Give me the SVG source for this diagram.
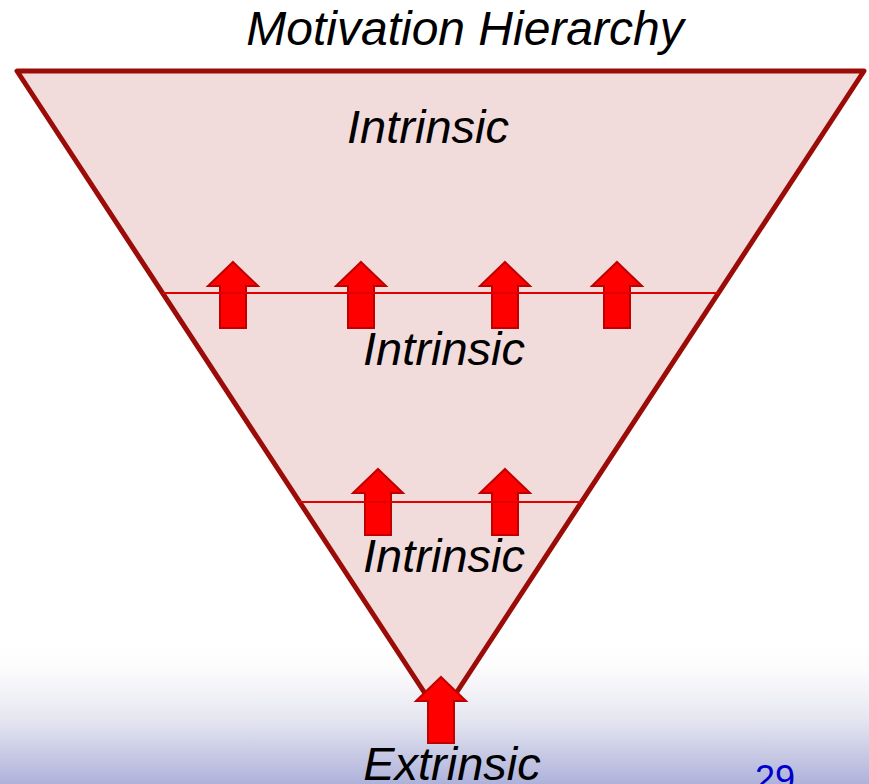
<svg xmlns="http://www.w3.org/2000/svg" width="869" height="784" viewBox="0 0 869 784">
  <defs>
    <linearGradient id="bg" x1="0" y1="0" x2="0" y2="1">
      <stop offset="0" stop-color="#ffffff"/>
      <stop offset="0.2" stop-color="#fcfcfd"/>
      <stop offset="0.55" stop-color="#e6e6f1"/>
      <stop offset="1" stop-color="#aeb2da"/>
    </linearGradient>
    <path id="arrow" d="M0,0 L25,24 L13,24 L13,66 L-13,66 L-13,24 L-25,24 Z"/>
    <style>
      .lbl { font-family: "Liberation Sans", Arial, sans-serif; font-style: italic; font-size: 47px; fill: #000; text-anchor: middle; }
      .arr { fill: #ff0000; stroke: #c00000; stroke-width: 2; stroke-linejoin: miter; }
      .div { stroke: #e00000; stroke-width: 2; }
    </style>
  </defs>
  <rect x="0" y="0" width="869" height="784" fill="#ffffff"/>
  <rect x="0" y="640" width="869" height="144" fill="url(#bg)"/>
  <text class="lbl" x="465" y="45" style="font-size:48px">Motivation Hierarchy</text>
  <g id="triangle">
    <polygon points="17,71 864,71 440.5,717" fill="#f2dcdb" stroke="#9b0c08" stroke-width="5" stroke-linejoin="round"/>
  </g>
  <g id="arrows">
    <use href="#arrow" class="arr" x="233" y="262"/>
    <use href="#arrow" class="arr" x="361" y="262"/>
    <use href="#arrow" class="arr" x="505" y="262"/>
    <use href="#arrow" class="arr" x="617" y="262"/>
    <use href="#arrow" class="arr" x="378" y="469"/>
    <use href="#arrow" class="arr" x="505" y="469"/>
    <use href="#arrow" class="arr" x="441" y="677"/>
  </g>
  <g id="connectors">
    <line class="div" x1="163" y1="293" x2="719" y2="293"/>
    <line class="div" x1="298" y1="502" x2="583" y2="502"/>
  </g>
  <g id="level1"><text class="lbl" x="428" y="143">Intrinsic</text></g>
  <g id="level2"><text class="lbl" x="444" y="365">Intrinsic</text></g>
  <g id="level3"><text class="lbl" x="444" y="572">Intrinsic</text></g>
  <g id="base"><text class="lbl" x="452" y="780">Extrinsic</text></g>
  <text x="755" y="791" font-family="Liberation Sans, Arial, sans-serif" font-size="36" fill="#0000cc">29</text>
</svg>
